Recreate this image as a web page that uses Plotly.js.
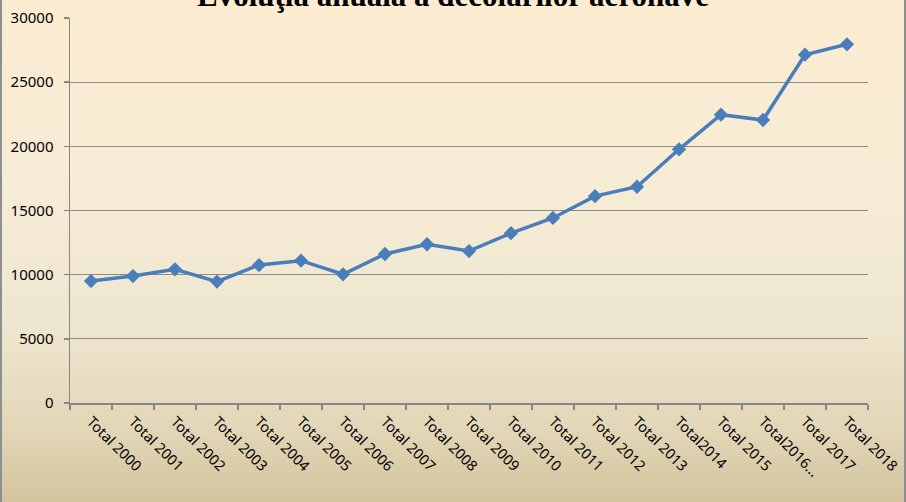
<!DOCTYPE html>
<html>
<head>
<meta charset="utf-8">
<script src="https://cdn.plot.ly/plotly-3.0.1.min.js"></script>
<style>
  html, body { margin: 0; padding: 0; }
  #wrap {
    width: 906px; height: 502px; position: relative;
    background: linear-gradient(to bottom, #fcecd1 0%, #f6ecd6 40%, #efe6cf 65%, #e2d7b8 85%, #d3c49d 100%);
    box-shadow: inset 2px 0 0 #8f8f8f, inset -2px 0 0 #8f8f8f;
  }
  #chart { width: 906px; height: 502px; }
</style>
</head>
<body>
<div id="wrap"><div id="chart"></div></div>
<script>
const categories = ["Total 2000", "Total 2001", "Total 2002", "Total 2003", "Total 2004", "Total 2005",
  "Total 2006", "Total 2007", "Total 2008", "Total 2009", "Total 2010", "Total 2011", "Total 2012",
  "Total 2013", "Total2014", "Total 2015", "Total2016...", "Total 2017", "Total 2018"];
const values = [9500, 9890, 10420, 9460, 10750, 11090, 10030, 11610, 12370, 11840, 13230, 14420, 16120,
  16850, 19770, 22470, 22050, 27140, 27950];
const yTicks = [0, 5000, 10000, 15000, 20000, 25000, 30000];
const titleText = "Evoluţia anuală a decolărilor aeronave";

const xFont = { family: '"Noto Sans", "Open Sans", sans-serif', size: 14.5, color: '#000' };
const yFont = { family: '"Noto Sans", "Open Sans", sans-serif', size: 15, color: '#000' };

const trace = {
  x: categories,
  y: values,
  type: 'scatter',
  mode: 'lines+markers',
  line: { color: '#4a7ebb', width: 3.5 },
  marker: { symbol: 'diamond', size: 11, color: '#4a7ebb' },
  cliponaxis: false,
  hoverinfo: 'x+y'
};

const layout = {
  width: 906, height: 502,
  margin: { l: 70, r: 38, t: 18, b: 99 },
  paper_bgcolor: 'rgba(0,0,0,0)',
  plot_bgcolor: 'rgba(0,0,0,0)',
  showlegend: false,
  font: xFont,
  xaxis: {
    type: 'category',
    range: [-0.5, 18.5],
    tickangle: 45,
    tickson: 'boundaries',
    ticks: 'outside', ticklen: 5, tickcolor: '#868686', tickwidth: 1.5,
    showline: true, linecolor: '#868686', linewidth: 1.5,
    showgrid: false, zeroline: false,
    ticklabelstandoff: 3,
    tickfont: xFont,
    fixedrange: true
  },
  yaxis: {
    range: [0, 30000],
    tickvals: yTicks,
    ticktext: yTicks.map(String),
    ticks: 'outside', ticklen: 5, tickcolor: '#868686', tickwidth: 1.5,
    showline: true, linecolor: '#868686', linewidth: 1.5,
    showgrid: true, gridcolor: '#8c8c8c', gridwidth: 1.3,
    zeroline: false,
    ticklabelstandoff: 7,
    tickfont: yFont,
    fixedrange: true
  },
  annotations: [{
    text: '<b>' + titleText + '</b>',
    xref: 'paper', yref: 'paper', x: 0.48, y: 1, xanchor: 'center', yanchor: 'bottom',
    yshift: 3, showarrow: false,
    font: { family: '"Liberation Serif", "DejaVu Serif", serif', size: 31, color: '#000' }
  }]
};

Plotly.newPlot('chart', [trace], layout, { displayModeBar: false, staticPlot: true });
</script>
</body>
</html>
